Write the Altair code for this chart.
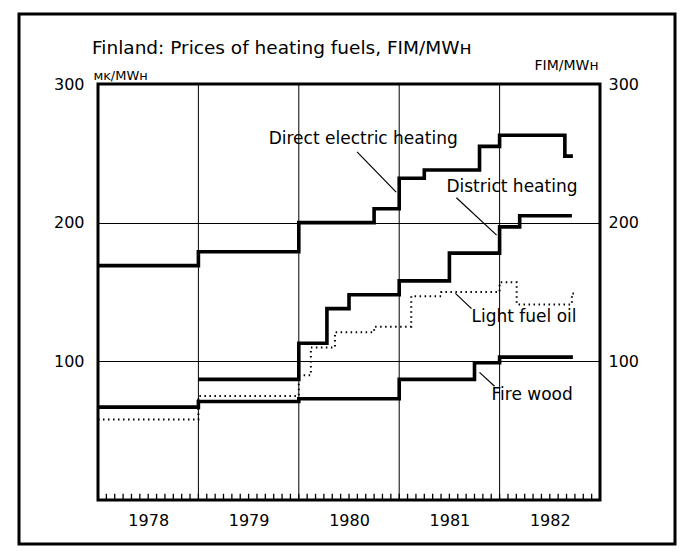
import altair as alt
import pandas as pd

# ---- data (decimal years, FIM/MWh), step-after series ----
direct_t = [1978.0, 1979.0, 1980.0, 1980.75, 1981.0, 1981.25, 1981.8, 1982.0, 1982.65, 1982.73]
direct_v = [169, 179, 200, 210, 232, 238, 255, 263, 248, 248]

district_t = [1979.0, 1980.0, 1980.28, 1980.5, 1981.0, 1981.5, 1982.0, 1982.2, 1982.72]
district_v = [87, 113, 138, 148, 158, 178, 197, 205, 205]

oil_t = [1978.0, 1979.0, 1980.0, 1980.12, 1980.36, 1980.75, 1981.12, 1981.42, 1982.0, 1982.17, 1982.72, 1982.75]
oil_v = [58, 75, 90, 110, 121, 125, 147, 150, 157, 141, 149, 149]

wood_t = [1978.0, 1979.0, 1980.0, 1981.0, 1981.75, 1982.0, 1982.73]
wood_v = [67, 71, 73, 87, 99, 103, 103]

year_lines = [1979, 1980, 1981, 1982]
year_label_pos = [1978.5, 1979.5, 1980.5, 1981.5, 1982.5]
y_ticks = [100, 200, 300]
month_ticks = [1978 + i / 12 for i in range(1, 60)]

label_text = ["Direct electric heating", "District heating", "Light fuel oil", "Fire wood"]
label_t = [1979.70, 1981.47, 1981.72, 1981.92]
label_v = [260, 226, 132, 76]
leader_t1 = [1980.58, 1981.57, 1981.56, 1981.80]
leader_v1 = [251, 218, 149, 92]
leader_t2 = [1980.97, 1981.97, 1981.72, 1981.95]
leader_v2 = [222, 191, 138, 82]

title_text = "Finland: Prices of heating fuels, FIM/MWʜ"

FONT = "DejaVu Sans"

rows = []
for name, ts, vs in [("direct", direct_t, direct_v), ("district", district_t, district_v),
                     ("oil", oil_t, oil_v), ("wood", wood_t, wood_v)]:
    for i, (t, v) in enumerate(zip(ts, vs)):
        rows.append({"series": name, "t": t, "v": v, "i": i})
df = pd.DataFrame(rows)
solid = df[df.series != "oil"]
dotted = df[df.series == "oil"]

X = alt.X("t:Q", scale=alt.Scale(domain=[1978, 1983], nice=False, zero=False),
          axis=alt.Axis(values=year_label_pos, labelExpr="'' + floor(datum.value)",
                        title=None, grid=False, ticks=False, domain=False,
                        labelFontSize=16, labelFont=FONT, labelColor="black", labelPadding=12))
Y = alt.Y("v:Q", scale=alt.Scale(domain=[0, 300], nice=False),
          axis=alt.Axis(values=y_ticks, title="ᴍᴋ/MWʜ", titleAngle=0, titleAlign="left",
                        titleBaseline="middle", titleX=-5, titleY=-9, titleFontSize=13,
                        titleFontWeight="normal", titleFont=FONT, titleColor="black",
                        grid=True, gridColor="black", gridWidth=1, gridOpacity=1,
                        ticks=False, domain=False, labelFontSize=16, labelFont=FONT,
                        labelColor="black", labelPadding=14))

one = pd.DataFrame({"a": [0]})

frame = alt.Chart(one).mark_rect(
    fillOpacity=0, stroke="black", strokeWidth=3
).encode(x=alt.value(-79), x2=alt.value(577), y=alt.value(-70), y2=alt.value(460))

title = alt.Chart(pd.DataFrame({"text": [title_text]})).mark_text(
    align="left", baseline="middle", fontSize=18.5, font=FONT, color="black"
).encode(x=alt.value(-6), y=alt.value(-36), text="text:N")

years = alt.Chart(pd.DataFrame({"t": year_lines})).mark_rule(
    color="black", strokeWidth=1).encode(x=X)

mt = pd.DataFrame({"t": month_ticks, "v": [0] * len(month_ticks), "v2": [4.5] * len(month_ticks)})
months = alt.Chart(mt).mark_rule(color="black", strokeWidth=1.3).encode(
    x=X, y=Y, y2="v2:Q")

lines = alt.Chart(solid).mark_line(
    interpolate="step-after", color="black", strokeWidth=3.6, strokeJoin="miter"
).encode(x=X, y=Y, detail="series:N", order="i:Q")

oil = alt.Chart(dotted).mark_line(
    interpolate="step-after", color="black", strokeWidth=2, strokeDash=[1.5, 3.5]
).encode(x=X, y=Y, order="i:Q")

lead = pd.DataFrame({"t": leader_t1, "v": leader_v1, "t2": leader_t2, "v2": leader_v2})
leaders = alt.Chart(lead).mark_rule(color="black", strokeWidth=1.2).encode(
    x=X, y=Y, x2="t2:Q", y2="v2:Q")

lab = pd.DataFrame({"t": label_t, "v": label_v, "text": label_text})
labels = alt.Chart(lab).mark_text(
    align="left", baseline="middle", fontSize=17, font=FONT, color="black"
).encode(x=X, y=Y, text="text:N")

left = alt.layer(frame, title, years, months, lines, oil, leaders, labels)

right = alt.Chart(pd.DataFrame({"v": [0, 300]})).mark_point(opacity=0).encode(
    y=alt.Y("v:Q", scale=alt.Scale(domain=[0, 300], nice=False),
            axis=alt.Axis(orient="right", values=y_ticks, title="FIM/MWʜ", titleAngle=0,
                          titleAlign="left", titleBaseline="middle", titleX=-66, titleY=-19,
                          titleFontSize=14, titleFontWeight="normal", titleFont=FONT,
                          titleColor="black", grid=False, ticks=False, domain=False,
                          labelFontSize=16, labelFont=FONT, labelColor="black",
                          labelPadding=8))
)

chart = alt.layer(left, right).resolve_scale(y="independent").properties(
    width=502, height=416,
    autosize=alt.AutoSizeParams(type="none"),
    padding={"left": 90, "top": 76, "right": 77, "bottom": 46},
    background="white",
).configure_view(stroke="black", strokeWidth=3)

chart.save("out.html", embed_options={"renderer": "svg", "actions": False})
